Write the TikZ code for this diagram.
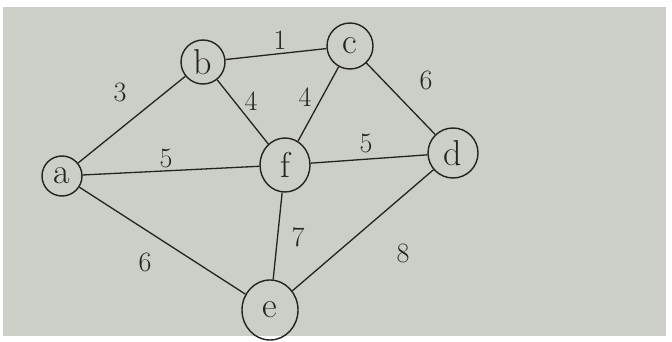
\documentclass[tikz,border=0pt]{standalone}
\usepackage{fontspec}
\usepackage{xcolor}
\usetikzlibrary{shapes.geometric}
\definecolor{paper}{RGB}{204,206,200}
\definecolor{ink}{RGB}{35,35,33}
\begin{document}
\begin{tikzpicture}[x=1pt,y=-1pt,
  vert/.style={circle,draw=ink,line width=1.4pt,minimum size=40pt,inner sep=0pt,font=\fontsize{36}{36}\selectfont,text=ink},
  edge/.style={draw=ink,line width=1.3pt},
  wlabel/.style={font=\fontsize{28}{28}\selectfont,text=ink}]
\useasboundingbox (0,0) rectangle (672,342);
\fill[white] (0,0) rectangle (672,342);
\fill[paper] (3,7) rectangle (666,336);
\node[vert,minimum size=40pt] (a) at (62,176) {a};
\node[vert,minimum size=44pt] (b) at (203,62) {b};
\node[vert,minimum size=46pt] (c) at (350,46) {c};
\node[vert,ellipse,minimum width=50pt,minimum height=54pt] (f) at (285,165) {f};
\node[vert,minimum size=50pt] (d) at (453,153) {d};
\node[vert,ellipse,minimum width=56pt,minimum height=60pt] (e) at (270,310) {e};
\draw[edge] (a) -- (b);
\draw[edge] (b) -- (c);
\draw[edge] (c) -- (d);
\draw[edge] (b) -- (f);
\draw[edge] (c) -- (f);
\draw[edge] (a) -- (f);
\draw[edge] (f) -- (d);
\draw[edge] (a) -- (e);
\draw[edge] (f) -- (e);
\draw[edge] (e) -- (d);
\node[wlabel] (l1) at (120,92) {3};
\node[wlabel] (l2) at (280,40) {1};
\node[wlabel] (l3) at (251,101) {4};
\node[wlabel] (l4) at (305,97) {4};
\node[wlabel] (l5) at (426,80) {6};
\node[wlabel] (l6) at (166,158) {5};
\node[wlabel] (l7) at (366,143) {5};
\node[wlabel] (l8) at (145,262) {6};
\node[wlabel] (l9) at (298,237) {7};
\node[wlabel] (l10) at (403,253) {8};
\end{tikzpicture}
\end{document}
